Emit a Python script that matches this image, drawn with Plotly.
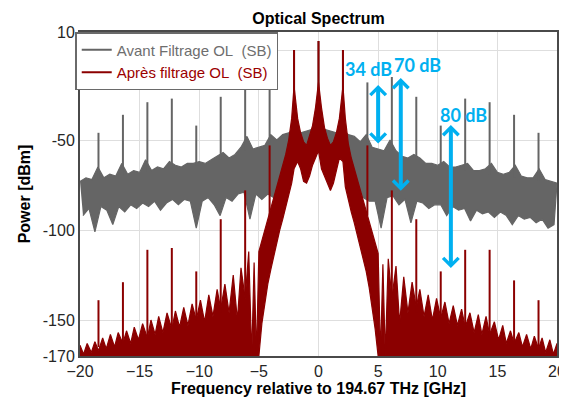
import plotly.graph_objects as go

# ---- data (GHz, dBm) ----
# comb lines (both spectra)
comb_f = [-18.45, -16.4, -14.35, -12.3, -10.25, -8.2, -6.15, -4.1, -2.05, 0,
          2.05, 4.1, 6.15, 8.2, 10.25, 12.3, 14.35, 16.4, 18.45]
gray_peak_db = [-46, -36, -29, -27, -42, -26, -15, -18, 0, 5,
                0, -18, -15, -26, -42, -27, -29, -36, -46]
gray_peak_base = [-72, -70, -68, -66, -64, -61, -56, -52, -46, -45,
                  -46, -52, -56, -61, -65, -67, -69, -71, -73]
red_peak_db = [-139, -129, -111, -110, -123, -94, -78, -53, 0, 5,
               0, -53, -78, -94, -123, -111, -111, -128, -139]
red_peak_base = [-165, -164, -160, -155, -150, -146, -138, -92, -40, -35,
                 -40, -92, -138, -146, -150, -156, -160, -164, -165]

# "Avant filtrage" noise band: upper edge
gray_top_f = [-20, -19.5, -19, -18.5, -18, -17.5, -17, -16.5, -16, -15.5, -15, -14.5, -14,
              -13.5, -13, -12.5, -12, -11.5, -11, -10.5, -10, -9.5, -9, -8.5, -8, -7.5,
              -7, -6.5, -6, -5.5, -5, -4.5, -4, -3.5, -3, -2.5, -2, -1.5, -1, -0.5, 0,
              0.5, 1, 1.5, 2, 2.5, 3, 3.5, 4, 4.5, 5, 5.5, 6, 6.5, 7, 7.5, 8, 8.5, 9,
              9.5, 10, 10.5, 11, 11.5, 12, 12.5, 13, 13.5, 14, 14.5, 15, 15.5, 16, 16.5,
              17, 17.5, 18, 18.5, 19, 19.5, 20]
gray_top_db = [-73, -71, -72, -65, -71, -69, -70, -63, -69, -67, -68, -61, -67,
               -65, -66, -62, -64, -65, -63, -63, -62, -63, -61, -59, -57, -60,
               -58, -54, -48, -55, -54, -53, -47, -50, -47, -46, -44, -46, -45, -44, -43,
               -44, -45, -46, -44, -47, -48, -51, -47, -54, -55, -56, -50, -56, -59, -60,
               -58, -60, -63, -63, -64, -62, -65, -65, -64, -63, -67, -67, -66, -63, -68,
               -69, -68, -64, -70, -71, -71, -66, -72, -73, -74]
# lower edge
gray_bot_f = [-19.75, -19.25, -18.75, -18.25, -17.75, -17.25, -16.75, -16.25, -15.75,
              -15.25, -14.75, -14.25, -13.75, -13.25, -12.75, -12.25, -11.75, -11.25,
              -10.75, -10.25, -9.75, -9.25, -8.75, -8.25, -7.75, -7.25, -6.75, -6.25,
              -5.75, -5.25, -4.75, -4.25, -3.75, -3.25, -2.75, -2.25, -1.75, -1.25,
              -0.75, -0.25, 0.25, 0.75, 1.25, 1.75, 2.25, 2.75, 3.25, 3.75, 4.25, 4.75,
              5.25, 5.75, 6.25, 6.75, 7.25, 7.75, 8.25, 8.75, 9.25, 9.75, 10.25, 10.75,
              11.25, 11.75, 12.25, 12.75, 13.25, 13.75, 14.25, 14.75, 15.25, 15.75,
              16.25, 16.75, 17.25, 17.75, 18.25, 18.75, 19.25, 19.75]
gray_bot_db = [-92, -88, -101, -87, -89, -97, -87, -90, -86,
               -88, -85, -87, -84, -89, -85, -83, -86, -83,
               -84, -99, -84, -82, -86, -92, -82, -84, -80, -79,
               -94, -80, -83, -80, -82, -76, -68, -60, -58, -56,
               -56, -55, -55, -56, -57, -58, -60, -66, -74, -82, -84, -84,
               -99, -82, -81, -86, -83, -96, -84, -85, -88, -86, -86, -92,
               -87, -89, -88, -95, -89, -91, -90, -93, -90, -92,
               -97, -92, -94, -93, -96, -94, -99, -97]

# "Après filtrage" spectrum: upper edge (side lobes + central part)
red_top_f = [-20, -19.7, -19.4, -19.05, -18.75, -18.45, -18.1, -17.8, -17.45, -17.1,
             -16.8, -16.4, -16.1, -15.75, -15.45, -15.1, -14.75, -14.35, -14.05, -13.7,
             -13.4, -13.05, -12.7, -12.3, -12, -11.65, -11.3, -10.95, -10.6, -10.25,
             -9.9, -9.55, -9.2, -8.85, -8.5, -8.2, -7.85, -7.5, -7.15, -6.8, -6.5,
             -6.15, -5.85, -5.6, -5.4, -5.2,
             -5, -4.75, -4.5, -4.25, -4, -3.75, -3.5, -3.25, -3, -2.75, -2.5, -2.25,
             -2.05, -1.75, -1.5, -1.25, -1, -0.75, -0.5, -0.25, 0, 0.25, 0.5, 0.75, 1,
             1.25, 1.5, 1.75, 2.05, 2.25, 2.5, 2.75, 3, 3.25, 3.5, 3.75, 4, 4.25, 4.5,
             4.75, 5,
             5.2, 5.4, 5.6, 5.85, 6.15, 6.5, 6.8, 7.15, 7.5, 7.85, 8.2, 8.5, 8.85, 9.2,
             9.55, 9.9, 10.25, 10.6, 10.95, 11.3, 11.65, 12, 12.3, 12.7, 13.05, 13.4,
             13.7, 14.05, 14.35, 14.75, 15.1, 15.45, 15.75, 16.1, 16.4, 16.8, 17.1,
             17.45, 17.8, 18.1, 18.45, 18.75, 19.05, 19.4, 19.7, 20]
red_top_db = [-164, -169, -163, -168, -162, -167, -160, -166, -158, -165,
              -157, -163, -156, -163, -154, -161, -152, -160, -150, -158,
              -148, -157, -146, -155, -145, -154, -143, -153, -141, -150,
              -139, -151, -136, -148, -133, -144, -130, -146, -125, -150, -121,
              -138, -112, -170, -118, -170,
              -112, -106, -101, -95, -88, -82, -76, -70, -64, -58, -50, -38,
              -20, -38, -46, -51, -53, -48, -42, -32, -18, -32, -43, -49, -53,
              -51, -46, -38, -20, -38, -52, -60, -66, -72, -78, -84, -90, -96, -102,
              -107, -113,
              -170, -119, -170, -116, -138, -120, -152, -126, -146, -129, -143, -133,
              -148, -136, -150, -138, -149, -140, -152, -142, -153, -144, -154, -146,
              -157, -147, -158, -148, -158, -151, -161, -153, -163, -156, -163, -157,
              -165, -158, -166, -159, -166, -160, -168, -161, -169, -163]
# lower edge (clipped at the axis floor outside the central part)
red_bot_f = [-20, -5, -4.75, -4.5, -4.25, -4, -3.75, -3.5, -3.25, -3, -2.75, -2.5,
             -2.25, -2.05, -1.75, -1.5, -1.25, -1, -0.75, -0.5, -0.25, 0, 0.25, 0.5,
             0.75, 1, 1.25, 1.5, 1.75, 2.05, 2.25, 2.5, 2.75, 3, 3.25, 3.5, 3.75, 4,
             4.25, 4.5, 4.75, 5, 20]
red_bot_db = [-170, -170, -152, -140, -130, -122, -114, -107, -100, -94, -88, -81,
              -74, -66, -62, -66, -73, -74, -70, -64, -60, -56, -66, -69,
              -74, -78, -74, -67, -60, -62, -76, -83, -90, -96, -102, -109, -116, -123,
              -132, -142, -155, -170, -170]

# annotations: label, text position, arrow x, arrow top, arrow bottom
gap_labels = ["34 dB", "70 dB", "80 dB"]
gap_text_f = [4.17, 8.33, 12.17]
gap_text_db = [-10.6, -8.3, -36.1]
gap_arrow_f = [5.0, 6.9, 11.1]
gap_arrow_top = [-19.4, -15.6, -41.7]
gap_arrow_bot = [-52.8, -79.0, -122.0]

GRAY = "#656565"
RED = "#8b0000"
BLUE = "#00b0f0"


def spikes(freqs, base, top):
    xs, ys = [], []
    for f, b, t in zip(freqs, base, top):
        xs += [f, f, None]
        ys += [b, t, None]
    return xs, ys


fig = go.Figure()

# gray band
fig.add_trace(go.Scatter(
    x=gray_top_f + gray_bot_f[::-1], y=gray_top_db + gray_bot_db[::-1],
    fill="toself", fillcolor=GRAY, mode="lines", line=dict(color=GRAY, width=1.2),
    showlegend=False, hoverinfo="skip"))
gx, gy = spikes(comb_f, gray_peak_base, gray_peak_db)
fig.add_trace(go.Scatter(
    x=gx, y=gy, mode="lines", line=dict(color=GRAY, width=2),
    name='<span style="color:#6e6e6e">Avant Filtrage OL&nbsp; (SB)</span>'))

# red band
fig.add_trace(go.Scatter(
    x=red_top_f + red_bot_f[::-1], y=red_top_db + red_bot_db[::-1],
    fill="toself", fillcolor=RED, mode="lines", line=dict(color=RED, width=1.2),
    showlegend=False, hoverinfo="skip"))
rx, ry = spikes(comb_f, red_peak_base, red_peak_db)
fig.add_trace(go.Scatter(
    x=rx, y=ry, mode="lines", line=dict(color=RED, width=2),
    name='<span style="color:#9b0000">Après filtrage OL&nbsp; (SB)</span>'))

# dB gap arrows and labels
for lab, tf, tdb, af, atop, abot in zip(gap_labels, gap_text_f, gap_text_db,
                                         gap_arrow_f, gap_arrow_top, gap_arrow_bot):
    fig.add_annotation(x=af, y=atop, ax=af, ay=abot, axref="x", ayref="y",
                       text="", showarrow=True, arrowside="end+start",
                       arrowhead=4, startarrowhead=4, arrowsize=0.75,
                       startarrowsize=0.75, arrowwidth=4, arrowcolor=BLUE,
                       standoff=0, startstandoff=0)
    fig.add_annotation(x=tf, y=tdb, text="<b>%s</b>" % lab, showarrow=False,
                       font=dict(family="Lato, Open Sans", size=18, color=BLUE))

# the page adds an 8px body margin, so the figure is 8px smaller than the window
fig.update_layout(
    width=559, height=393,
    margin=dict(l=72, r=10, t=24, b=45),
    paper_bgcolor="white", plot_bgcolor="white",
    font=dict(family="Liberation Sans, Arial", size=16, color="#262626"),
    title=dict(text="<b>Optical Spectrum</b>", x=0.5, xref="paper",
               y=1 - 10 / 393, yref="container", yanchor="middle",
               font=dict(size=16, color="black")),
    showlegend=True,
    legend=dict(x=-0.01, y=1, xanchor="left", yanchor="top",
                bgcolor="white", bordercolor="#6a6a6a", borderwidth=1.5,
                font=dict(size=15), itemwidth=30, tracegroupgap=0),
    xaxis=dict(range=[-20, 20], tick0=-20, dtick=5, showgrid=True,
               gridcolor="#dedede", gridwidth=1, zeroline=False,
               showline=True, linecolor="#4a4a4a", linewidth=2, mirror=True,
               ticks="", automargin=False, ticklabeloverflow="allow",
               title=dict(text="<b>Frequency relative to 194.67 THz [GHz]</b>",
                          font=dict(size=16, color="black"), standoff=2)),
    yaxis=dict(range=[-170, 10], tickvals=[10, 0, -50, -100, -150, -170],
               ticktext=["10", "", "-50", "-100", "-150", "-170"],
               showgrid=True, gridcolor="#dedede", gridwidth=1, zeroline=False,
               showline=True, linecolor="#4a4a4a", linewidth=2, mirror=True,
               ticks="", automargin=False,
               title=dict(text="<b>Power [dBm]</b>",
                          font=dict(size=16, color="black"), standoff=8)),
)

fig.write_html("out.html")
